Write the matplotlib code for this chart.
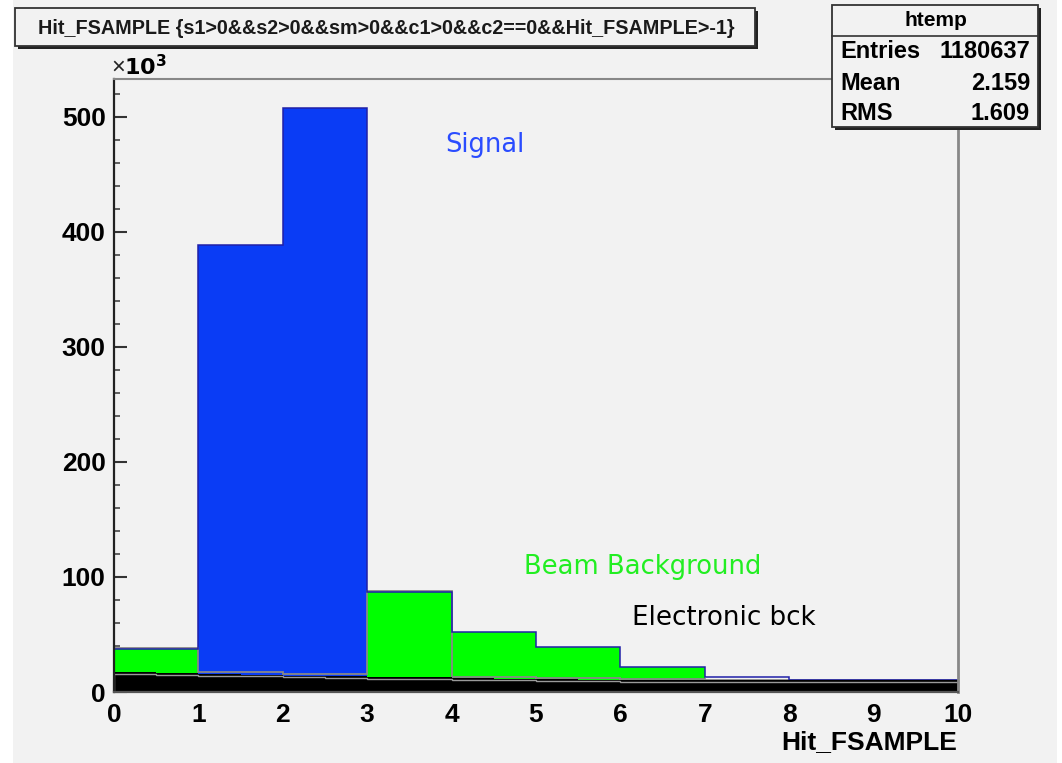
import matplotlib
matplotlib.use("Agg")
import matplotlib.pyplot as plt
from matplotlib.patches import Rectangle
from matplotlib.lines import Line2D
from matplotlib.ticker import MultipleLocator
import numpy as np

# ---- data (counts in thousands) ----
bin_edges = [0, 1, 2, 3, 4, 5, 6, 7, 8, 9, 10]
total_counts = [37.5, 389, 508, 87, 52, 39, 21.5, 13, 10.5, 10.5]
bin_kind = ["beam", "signal", "signal", "beam", "beam", "beam", "beam", "elec", "elec", "elec"]
beam_outline = [38, 17, 16, 88, 13, 12, 11, 10.5, 10.4, 10.4]
elec_edges = [0, 0.5, 1, 1.5, 2, 2.5, 3, 3.5, 4, 4.5, 5, 5.5, 6, 6.5, 7, 7.5, 8, 8.5, 9, 9.5, 10]
elec_counts = [17, 16.6, 15.5, 15, 14.2, 13.6, 13.2, 12.8, 12, 11.5, 11, 10.8, 10.6, 10.5, 10.4, 10.4, 10.3, 10.3, 10.3, 10.3]

xticks = [0, 1, 2, 3, 4, 5, 6, 7, 8, 9, 10]
yticks = [0, 100, 200, 300, 400, 500]

title_text = "Hit_FSAMPLE {s1>0&&s2>0&&sm>0&&c1>0&&c2==0&&Hit_FSAMPLE>-1}"
stats_name = "htemp"
stats_rows = [("Entries", "1180637"), ("Mean", "2.159"), ("RMS", "1.609")]

kind_color = {"signal": "#0a3cf5", "beam": "#00ff00", "elec": "none"}

W, H = 1062, 763
fig = plt.figure(figsize=(W / 100, H / 100), dpi=100, facecolor="white")
plt.rcParams["font.family"] = ["Liberation Sans", "DejaVu Sans"]

def fx(x):
    return x / W

def fy(y):
    return 1 - y / H

# gray canvas
fig.patches.append(Rectangle((fx(13), 0), fx(1044), 1, transform=fig.transFigure,
                             facecolor="#f2f2f2", edgecolor="none", zorder=-10))

ax = fig.add_axes([fx(114), fy(692), fx(958 - 114), fy(79) - fy(692)])
ax.set_facecolor("#f2f2f2")

edges = np.array(bin_edges, dtype=float)
widths = np.diff(edges)
colors = [kind_color[k] for k in bin_kind]
ax.bar(edges[:-1], total_counts, width=widths, align="edge", color=colors,
       edgecolor="none", linewidth=0, zorder=2)
ax.stairs(beam_outline, edges, color="#888888", linewidth=1.3, zorder=3)
ax.stairs(total_counts, edges, color="#2020a8", linewidth=1.1, zorder=3)
ax.stairs(elec_counts, elec_edges, fill=True, color="black", zorder=4)
ax.stairs(np.array(elec_counts) - 1.5, elec_edges, color="#9a9a9a", linewidth=1.0, zorder=5)

ax.set_xlim(0, 10)
ax.set_ylim(0, 533)
ax.set_xticks(xticks)
ax.set_yticks(yticks)
ax.xaxis.set_minor_locator(MultipleLocator(0.2))
ax.yaxis.set_minor_locator(MultipleLocator(20))
ax.tick_params(which="major", direction="in", length=9, width=1.5, color="#333333",
               labelsize=19, pad=6)
ax.tick_params(which="minor", direction="in", length=4.5, width=1.3, color="#555555")
ax.tick_params(axis="x", pad=8)
for lab in ax.get_xticklabels() + ax.get_yticklabels():
    lab.set_fontweight("bold")
ax.spines["left"].set_color("#222222")
ax.spines["left"].set_linewidth(1.6)
ax.spines["bottom"].set_color("#555555")
ax.spines["bottom"].set_linewidth(1.6)
ax.spines["top"].set_color("#888888")
ax.spines["top"].set_linewidth(1.5)
ax.spines["right"].set_color("#888888")
ax.spines["right"].set_linewidth(2)
for s in ax.spines.values():
    s.set_zorder(6)

# axis label and exponent
fig.text(fx(957), fy(742), "Hit_FSAMPLE", ha="right", va="center", fontsize=19,
         fontweight="bold")
fig.text(fx(111), fy(68), "\u00d7", ha="left", va="center", fontsize=17, color="#222222")
fig.text(fx(124), fy(68), r"$\mathbf{10^{3}}$", ha="left", va="center", fontsize=16)

# annotations
ax.text(0.392, 0.892, "Signal", transform=ax.transAxes, color="#2a4cff",
        fontsize=18.5, family="DejaVu Sans", ha="left", va="center")
ax.text(0.486, 0.204, "Beam Background", transform=ax.transAxes, color="#22ee22",
        fontsize=18.6, family="DejaVu Sans", ha="left", va="center")
ax.text(0.614, 0.12, "Electronic bck", transform=ax.transAxes, color="black",
        fontsize=18.8, family="DejaVu Sans", ha="left", va="center")

# title box
def box(x0, y0, x1, y1, lw=1.3):
    fig.patches.append(Rectangle((fx(x0 + 3), fy(y1 + 3)), fx(x1 - x0), fy(y0) - fy(y1),
                                 transform=fig.transFigure, facecolor="#222222",
                                 edgecolor="none", zorder=9))
    fig.patches.append(Rectangle((fx(x0), fy(y1)), fx(x1 - x0), fy(y0) - fy(y1),
                                 transform=fig.transFigure, facecolor="#f2f2f2",
                                 edgecolor="#333333", linewidth=lw, zorder=10))

box(15, 8, 755, 46)
fig.text(fx(38), fy(28), title_text, ha="left", va="center", fontsize=14.2,
         fontweight="bold", color="#1a1a1a", zorder=11)

# stats box
box(832, 5, 1038, 127)
fig.lines.append(Line2D([fx(832), fx(1038)], [fy(36), fy(36)], transform=fig.transFigure,
                        color="#333333", linewidth=1.2, zorder=11))
fig.text(fx(936), fy(20), stats_name, ha="center", va="center", fontsize=15,
         fontweight="bold", zorder=11)
row_y = [51, 83, 114]
for (name, val), yy in zip(stats_rows, row_y):
    fig.text(fx(840), fy(yy), name, ha="left", va="center", fontsize=17,
             fontweight="bold", zorder=11)
    fig.text(fx(1030), fy(yy), val, ha="right", va="center", fontsize=17,
             fontweight="bold", zorder=11)

fig.savefig("out.png", dpi=100, facecolor=fig.get_facecolor())
